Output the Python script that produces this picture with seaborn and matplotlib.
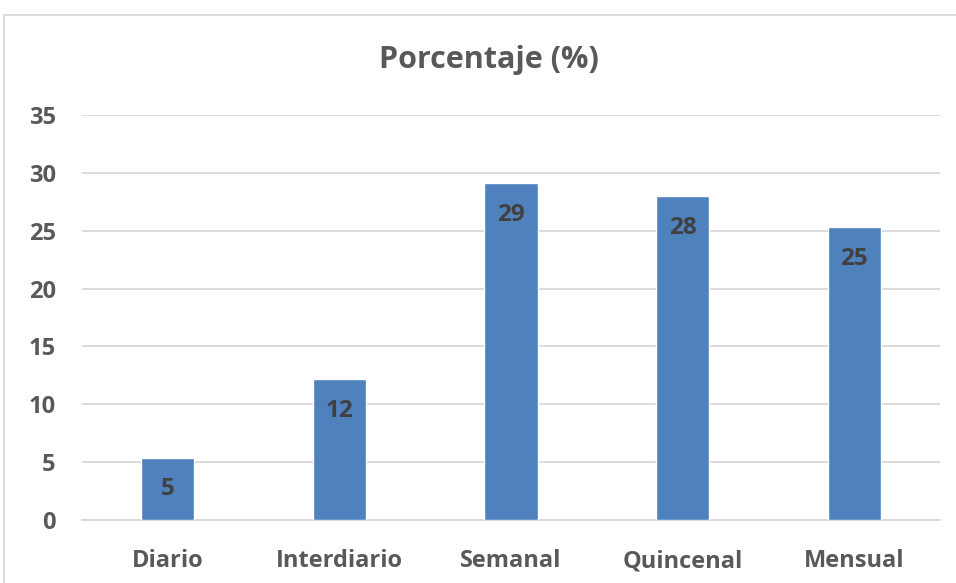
import matplotlib
matplotlib.use("Agg")
import matplotlib.pyplot as plt
from matplotlib.patches import Rectangle
import seaborn as sns
import pandas as pd

categorias = ["Diario", "Interdiario", "Semanal", "Quincenal", "Mensual"]
porcentaje = [5.4, 12.2, 29.1, 28.0, 25.3]

df = pd.DataFrame({"frecuencia": categorias, "porcentaje": porcentaje})

sns.set_theme(style="white")
plt.rcParams["font.family"] = ["Open Sans", "DejaVu Sans"]

fig = plt.figure(figsize=(9.56, 5.83), dpi=100)
ax = fig.add_axes([82 / 956, 1 - 520 / 583, (940 - 82) / 956, (520 - 115) / 583])

sns.barplot(data=df, x="frecuencia", y="porcentaje", color="#4f81bd",
            width=0.31, saturation=1, ax=ax, zorder=3)

ax.set_ylim(0, 35)
ax.set_xlim(-0.5, 4.5)
ax.set_yticks(range(0, 36, 5))
ax.yaxis.grid(True, color="#d9d9d9", linewidth=1.3, zorder=0)
ax.set_axisbelow(True)
for s in ["top", "right", "left"]:
    ax.spines[s].set_visible(False)
ax.spines["bottom"].set_color("#d9d9d9")
ax.spines["bottom"].set_linewidth(1.3)
ax.tick_params(axis="both", length=0, labelsize=17, labelcolor="#595959")
ax.tick_params(axis="y", pad=19)
ax.tick_params(axis="x", pad=21)
for lbl in ax.get_xticklabels() + ax.get_yticklabels():
    lbl.set_fontweight("bold")
ax.set_xlabel("")
ax.set_ylabel("")

for bar, v in zip(ax.patches, porcentaje):
    ax.annotate(f"{v:.0f}", (bar.get_x() + bar.get_width() / 2, v),
                xytext=(0, -23), textcoords="offset points",
                ha="center", va="center", fontsize=17.5, fontweight="bold",
                color="#404040", zorder=4)

fig.text(489 / 956, 1 - 60 / 583, "Porcentaje (%)", ha="center", va="center",
         fontsize=22, fontweight="bold", color="#595959")

fig.patches.append(Rectangle((4 / 956, -0.1), 1.0, (583 - 15) / 583 + 0.1,
                             transform=fig.transFigure, fill=False,
                             edgecolor="#d9d9d9", linewidth=1.3))

fig.savefig("out.png", dpi=100)
